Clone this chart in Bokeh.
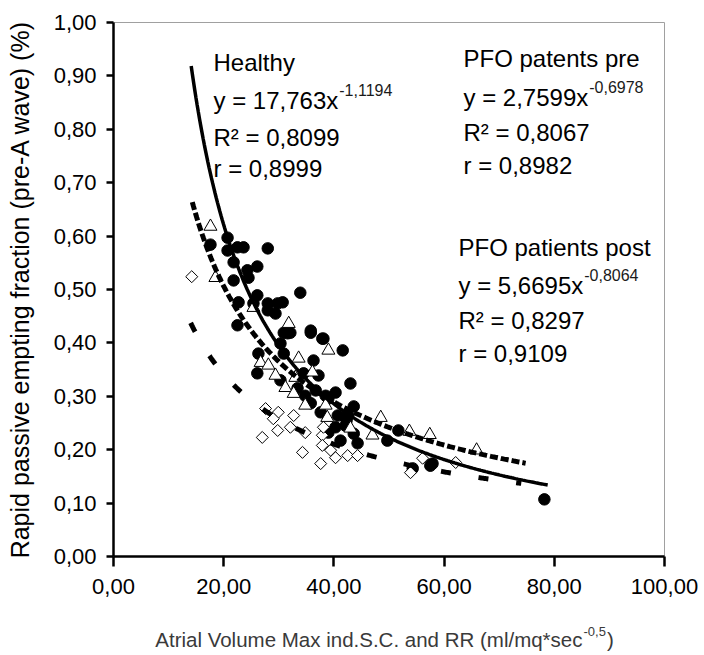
import numpy as np
from bokeh.plotting import figure
from bokeh.models import Range1d, FixedTicker, CustomJSTickFormatter, Label
from bokeh.embed import file_html
from bokeh.resources import INLINE

# ---------------- data ----------------
healthy_x = [17.6, 20.7, 20.7, 22.5, 23.6, 28.0, 21.8, 26.1, 24.3, 24.5, 21.8, 33.9, 26.1, 22.7,
             28.0, 30.7, 29.4, 22.5, 30.9, 32.1, 35.8, 37.9, 41.6, 31.6, 30.3, 26.3, 30.9, 36.3,
             26.1, 30.3, 33.4, 43.0, 36.7, 40.3, 43.6, 35.8, 37.6, 40.7, 40.3, 43.6, 44.3, 41.2,
             49.7, 51.7, 57.9, 54.3, 57.5, 78.2, 37.2, 34.5, 25.4, 29.8, 28.0, 35.8, 38.1, 42.3, 39.0,
             42.1, 39.0, 42.6, 38.5, 34.8]
healthy_y = [0.584, 0.597, 0.573, 0.579, 0.579, 0.577, 0.551, 0.543, 0.536, 0.522, 0.517, 0.494, 0.489, 0.476,
             0.474, 0.476, 0.455, 0.433, 0.419, 0.419, 0.423, 0.408, 0.386, 0.418, 0.399, 0.380, 0.380, 0.367,
             0.343, 0.330, 0.315, 0.324, 0.311, 0.307, 0.281, 0.287, 0.270, 0.264, 0.242, 0.230, 0.212, 0.217,
             0.217, 0.236, 0.174, 0.165, 0.170, 0.107, 0.339, 0.343, 0.474, 0.474, 0.461, 0.419, 0.408, 0.255, 0.296,
             0.245, 0.232, 0.264, 0.301, 0.301]

post_x = [17.6, 18.5, 25.4, 31.8, 39.0, 26.7, 28.1, 29.4, 33.6, 33.0, 36.1, 31.2, 32.7, 34.8,
          38.5, 38.8, 43.0, 47.0, 48.5, 53.7, 57.4, 65.9]
post_y = [0.618, 0.522, 0.466, 0.436, 0.386, 0.363, 0.358, 0.339, 0.371, 0.335, 0.345, 0.316, 0.305, 0.283,
          0.283, 0.260, 0.240, 0.227, 0.260, 0.234, 0.228, 0.199]

pre_x = [14.2, 27.6, 29.9, 32.7, 29.0, 32.1, 29.8, 27.0, 34.8, 37.9, 38.1, 37.9, 34.3, 39.4,
         40.3, 42.5, 44.3, 37.6, 56.1, 53.9, 62.1]
pre_y = [0.524, 0.277, 0.270, 0.264, 0.258, 0.242, 0.236, 0.223, 0.232, 0.227, 0.242, 0.208, 0.195, 0.199,
         0.185, 0.189, 0.189, 0.174, 0.184, 0.157, 0.176]

# power trendlines y = a * x^b (equations printed on the chart) and their x spans
healthy_fit = (17.763, -1.1194)
healthy_span = (14.1, 78.8)
pre_fit = (2.7599, -0.6978)
pre_span = (14.0, 74.0)
post_fit = (5.6695, -0.8064)
post_span = (14.3, 74.8)

x_ticks = [0, 20, 40, 60, 80, 100]
y_ticks = [0.0, 0.1, 0.2, 0.3, 0.4, 0.5, 0.6, 0.7, 0.8, 0.9, 1.0]

healthy_lines = ["Healthy", "y = 17,763x", "R\u00b2 = 0,8099", "r = 0,8999"]
healthy_exp = "-1,1194"
pre_lines = ["PFO patents pre", "y = 2,7599x", "R\u00b2 = 0,8067", "r = 0,8982"]
pre_exp = "-0,6978"
post_lines = ["PFO patients  post", "y = 5,6695x", "R\u00b2 = 0,8297", "r = 0,9109"]
post_exp = "-0,8064"

x_title = "Atrial Volume Max ind.S.C. and RR (ml/mq*sec"
x_title_exp = "-0,5"
y_title = "Rapid passive empting fraction (pre-A wave) (%)"

FONT = "Liberation Sans"
W, H = 704, 655
FL, FR, FT, FB = 113, 664, 22, 556          # frame edges on the page
PX_PER_X = (FR - FL) / 100.0

p = figure(width=W, height=H, x_range=Range1d(0, 100), y_range=Range1d(0, 1),
           output_backend="svg", toolbar_location=None,
           min_border_left=FL, min_border_right=W - FR, min_border_top=FT, min_border_bottom=H - FB)
p.xgrid.visible = False
p.ygrid.visible = False
p.outline_line_color = "#a0a0a0"
p.outline_line_width = 1

fmt = CustomJSTickFormatter(code="return tick.toFixed(2).replace('.', ',');")
for ax, ticks in ((p.xaxis, x_ticks), (p.yaxis, y_ticks)):
    ax.ticker = FixedTicker(ticks=ticks)
    ax.formatter = fmt
    ax.axis_line_width = 2.5
    ax.axis_line_color = "black"
    ax.major_tick_line_width = 2.5
    ax.major_tick_line_color = "black"
    ax.major_tick_in = 0
    ax.minor_tick_line_color = None
    ax.major_label_text_font = FONT
    ax.major_label_text_font_size = "22px"
    ax.major_label_text_color = "black"
p.xaxis.major_tick_out = 10
p.xaxis.major_label_standoff = 12
p.yaxis.major_tick_out = 7
p.yaxis.major_label_standoff = 10

p.yaxis.axis_label = y_title
p.yaxis.axis_label_text_font = FONT
p.yaxis.axis_label_text_font_size = "25px"
p.yaxis.axis_label_text_font_style = "normal"
p.yaxis.axis_label_text_color = "black"
p.yaxis.axis_label_standoff = 17

# scatter series
p.scatter(healthy_x, healthy_y, marker="circle", size=11.5, fill_color="black", line_color="black")
p.scatter(pre_x, pre_y, marker="square", size=8.5, angle=np.pi / 4, fill_color="white",
          line_color="black", line_width=1)
p.scatter(post_x, post_y, marker="triangle", size=13, fill_color="white", line_color="black",
          line_width=1)

# trendlines
def trend(fit, span):
    xs = np.linspace(span[0], span[1], 300)
    return xs, fit[0] * xs ** fit[1]

hx, hy = trend(healthy_fit, healthy_span)
p.line(hx, hy, line_color="black", line_width=3.5)
ox, oy = trend(post_fit, post_span)
p.line(ox, oy, line_color="black", line_width=5, line_dash="8 3")
rx, ry = trend(pre_fit, pre_span)
p.line(rx, ry, line_color="black", line_width=5, line_dash="10 28")

# ---------------- annotations ----------------
AW = {' ': 0.278, '=': 0.584, 'y': 0.5, 'x': 0.5, ',': 0.278, '-': 0.333}
def text_w(s, size):
    return sum(AW.get(c, 0.556) for c in s) * size

def dx(px):   # page x -> data x
    return (px - FL) / PX_PER_X

def dy(py):   # page y -> data y
    return (FB - py) / (FB - FT)

def lab(x, y, text, size=24, color="black", place=None, **kw):
    l = Label(x=x, y=y, text=text, text_font=FONT, text_font_size=f"{size}px",
              text_color=color, text_baseline="alphabetic", **kw)
    if place:
        p.add_layout(l, place)
    else:
        p.add_layout(l)

def block(x0, baselines, lines, exp, exp_dy):
    for t, b in zip(lines, baselines):
        lab(dx(x0), dy(b), t)
    sx = x0 + text_w(lines[1], 24) + 1
    lab(dx(sx), dy(baselines[1] - exp_dy), exp, size=16, color="#1a1a1a")

block(213, [62, 100, 137, 168], healthy_lines, healthy_exp, 11)
block(463, [58, 97, 132, 165], pre_lines, pre_exp, 11)
block(458, [247, 285, 320, 353], post_lines, post_exp, 11)

# x axis title (main text + superscript + closing parenthesis), in the bottom panel
lab(dx(582), dy(639), x_title, size=20.5, color="#3a3a3a", place="below", text_align="right")
lab(dx(583), dy(631), x_title_exp, size=13, color="#3a3a3a", place="below")
lab(dx(583 + text_w(x_title_exp, 13) + 1), dy(639), ")", size=20.5, color="#3a3a3a", place="below")

open("out.html", "w").write(file_html(p, INLINE))
